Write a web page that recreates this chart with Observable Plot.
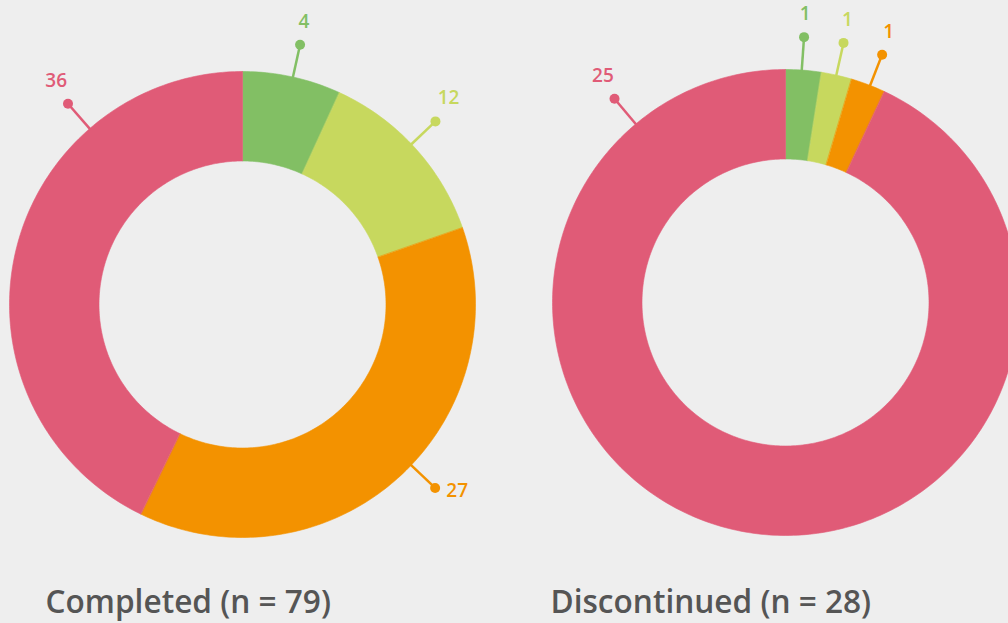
<!DOCTYPE html>
<html><head><meta charset="utf-8">
<script src="https://cdn.jsdelivr.net/npm/d3@7"></script>
<script src="https://cdn.jsdelivr.net/npm/@observablehq/plot@0.6"></script>
<style>
html,body{margin:0;padding:0;background:#eeeeee;overflow:hidden}
#chart{width:1008px;height:623px}
</style></head><body><div id="chart"></div>
<script>
// ---- data ----
const categories = ["Group A", "Group B", "Group C", "Group D"];
const colors = ["#82bf64", "#c7d85e", "#f39200", "#e05b77"];
const completedLabels = [4, 12, 27, 36];
const discontinuedLabels = [1, 1, 1, 25];
// arc spans (degrees) as drawn in the picture, clockwise from 12 o'clock
const completedArcs = [24.6, 46.2, 135.1, 154.1];
const discontinuedArcs = [8.9, 7.6, 8.6, 334.9];
// angles (degrees) where the label leaders sit
const completedLabelAngles = [12.5, 46.5, 133.6, 319];
const discontinuedLabelAngles = [4, 12.6, 21.3, 320];
const titles = ["Completed (n = 79)", "Discontinued (n = 28)"];

// ---- layout ----
const W = 1008, H = 623;
const R = 233, r0 = 143.5, dotR = 266;
const donuts = [
  {cx: 242, cy: 304, arcs: completedArcs, labels: completedLabels, angles: completedLabelAngles, title: titles[0], tx: 45},
  {cx: 785, cy: 302, arcs: discontinuedArcs, labels: discontinuedLabels, angles: discontinuedLabelAngles, title: titles[1], tx: 550}
];
const rad = d => d * Math.PI / 180;
const pt = (d, a, rr) => [d.cx + rr * Math.sin(rad(a)), d.cy - rr * Math.cos(rad(a))];

const poly = [], leaders = [], titleRows = [];
donuts.forEach((d, di) => {
  let a0 = 0;
  d.arcs.forEach((span, i) => {
    const a1 = a0 + span;
    const n = Math.max(4, Math.ceil(span));
    const id = di + "-" + i;
    for (let k = 0; k <= n; k++) {
      const a = a0 + (a1 - a0) * k / n;
      const [x, y] = pt(d, a, R);
      poly.push({id, x, y, color: colors[i]});
    }
    for (let k = n; k >= 0; k--) {
      const a = a0 + (a1 - a0) * k / n;
      const [x, y] = pt(d, a, r0);
      poly.push({id, x, y, color: colors[i]});
    }
    const ang = d.angles[i];
    const [x1, y1] = pt(d, ang, R - 2);
    const [x2, y2] = pt(d, ang, dotR);
    const s = Math.sin(rad(ang)), c = Math.cos(rad(ang));
    // upper half: label sits above the dot; lower half: beside it
    const lx = c >= 0 ? x2 + 18 * s : x2 + 22 * Math.sign(s);
    const ly = c >= 0 ? y2 - 23 : y2 + 3;
    leaders.push({x1, y1, x2, y2, lx, ly, label: String(d.labels[i]), color: colors[i], cat: categories[i]});
    a0 = a1;
  });
  titleRows.push({x: d.tx, y: 612, title: d.title});
});

const chart = Plot.plot({
  width: W, height: H, margin: 0,
  x: {domain: [0, W], range: [0, W], axis: null},
  y: {domain: [0, H], range: [0, H], axis: null},
  color: {type: "identity"},
  style: {background: "#eeeeee"},
  marks: [
    Plot.line(poly, {x: "x", y: "y", z: "id", fill: "color", stroke: "color", strokeWidth: 0.6, curve: "linear-closed"}),
    Plot.link(leaders, {x1: "x1", y1: "y1", x2: "x2", y2: "y2", stroke: "color", strokeWidth: 2.5}),
    Plot.dot(leaders, {x: "x2", y: "y2", r: 5, fill: "color"}),
    Plot.text(leaders, {x: "lx", y: "ly", text: "label", fill: "color", fontSize: 19, fontWeight: 600, fontFamily: "Open Sans"}),
    Plot.text(titleRows, {x: "x", y: "y", text: "title", textAnchor: "start", lineAnchor: "bottom", fill: "#555555", fontSize: 31.6, fontWeight: 600, fontFamily: "Open Sans"})
  ]
});
document.getElementById("chart").appendChild(chart);
</script></body></html>
